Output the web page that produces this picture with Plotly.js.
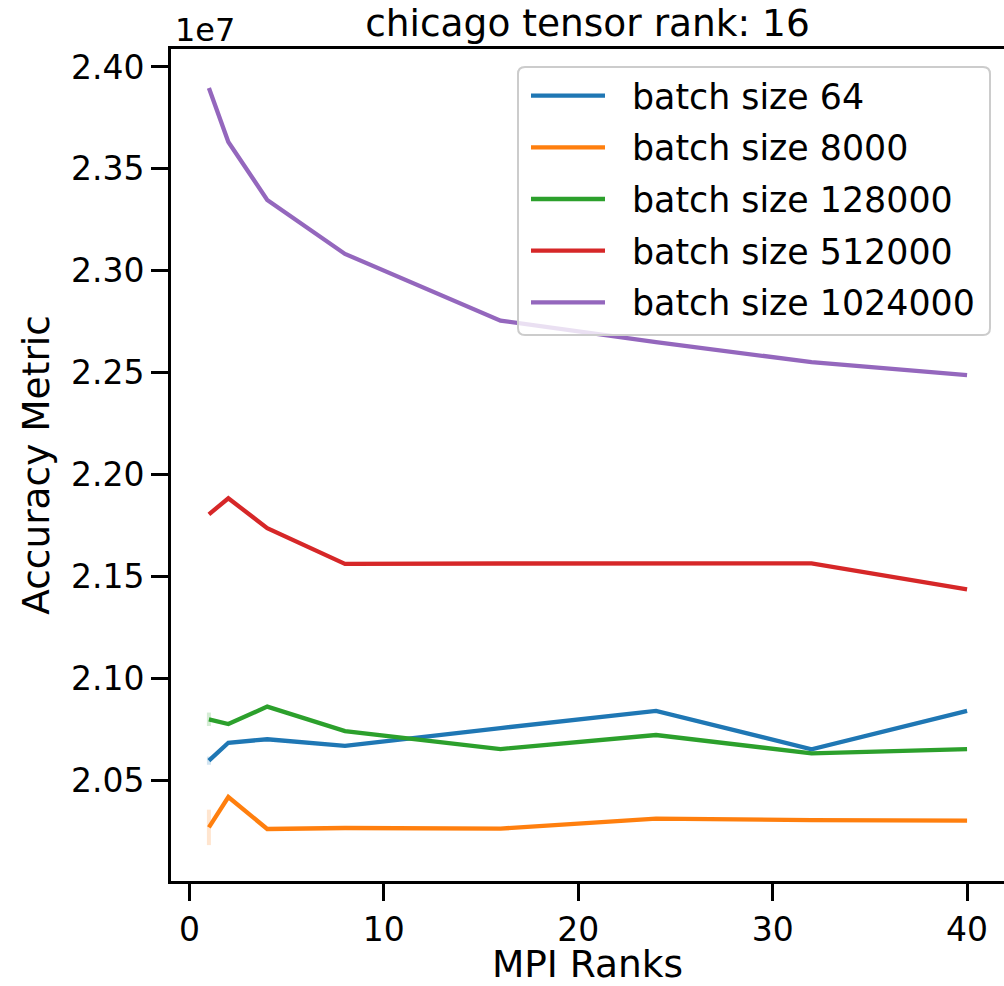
<!DOCTYPE html>
<html>
<head>
<meta charset="utf-8">
<script src="https://cdn.plot.ly/plotly-3.0.1.min.js"></script>
<style>
html,body{margin:0;padding:0;background:#fff;overflow:hidden;}
#chart{width:1004px;height:986px;}
</style>
</head>
<body>
<div id="chart"></div>
<script>
// MPI ranks (x axis)
const mpiRanks = [1, 2, 4, 8, 16, 24, 32, 40];

// Accuracy metric values, in units of 1e7
const batch64      = [2.0598, 2.0686, 2.0703, 2.0671, 2.0758, 2.0842, 2.0654, 2.0842];
const batch8000    = [2.0271, 2.0420, 2.0263, 2.0268, 2.0265, 2.0314, 2.0307, 2.0304];
const batch128000  = [2.0801, 2.0778, 2.0863, 2.0743, 2.0655, 2.0724, 2.0634, 2.0655];
const batch512000  = [2.1806, 2.1885, 2.1738, 2.1563, 2.1565, 2.1565, 2.1566, 2.1438];
const batch1024000 = [2.3897, 2.3632, 2.3348, 2.3083, 2.2756, 2.2651, 2.2552, 2.2489];

// confidence half-widths (1e7 units), only visible at 1 rank
const ci64      = [0.0020, 0, 0, 0, 0, 0, 0, 0];
const ci8000    = [0.0087, 0, 0, 0, 0, 0, 0, 0];
const ci128000  = [0.0033, 0, 0, 0, 0, 0, 0, 0];
const ci512000  = [0, 0, 0, 0, 0, 0, 0, 0];
const ci1024000 = [0, 0, 0, 0, 0, 0, 0, 0];

const seriesNames = ['batch size 64', 'batch size 8000', 'batch size 128000', 'batch size 512000', 'batch size 1024000'];
const seriesValues = [batch64, batch8000, batch128000, batch512000, batch1024000];
const seriesCI = [ci64, ci8000, ci128000, ci512000, ci1024000];
const colors = ['#1f77b4', '#ff7f0e', '#2ca02c', '#d62728', '#9467bd'];
const ciColors = ['rgba(31,119,180,0.2)', 'rgba(255,127,14,0.2)', 'rgba(44,160,44,0.2)', 'rgba(214,39,40,0.2)', 'rgba(148,103,189,0.2)'];

const titleText = 'chicago tensor rank: 16';
const xTitle = 'MPI Ranks';
const yTitle = 'Accuracy Metric';
const offsetText = '1e7';

const FONT = 'DejaVu Sans, sans-serif';

// plot-area geometry (pixels)
const W = 1004, H = 986;
const M = {l: 171, r: 0, t: 49, b: 105};
const PW = W - M.l - M.r, PH = H - M.t - M.b;
const px = v => (v - M.l) / PW;        // page x -> paper x
const py = v => (H - M.b - v) / PH;    // page y -> paper y

const traces = seriesNames.map((name, i) => ({
  type: 'scatter',
  mode: 'lines',
  name: name,
  x: mpiRanks,
  y: seriesValues[i],
  line: {color: colors[i], width: 4.3},
  error_y: {type: 'data', array: seriesCI[i], visible: true, color: ciColors[i], thickness: 4, width: 0},
  showlegend: false,
  hoverinfo: 'x+y+name'
}));

// legend drawn as shapes + annotations (matplotlib-style long handles)
const LG = {left: 518, right: 990, top: 67, bottom: 335, r: 7,
            lineX0: 531, lineX1: 605, textX: 630, row0: 95.7, rowStep: 51.65};
const rx = LG.r / PW, ry = LG.r / PH;
const L = px(LG.left), R = px(LG.right), T = py(LG.top), B = py(LG.bottom);
const boxPath = `M${L + rx},${T} L${R - rx},${T} Q${R},${T} ${R},${T - ry} L${R},${B + ry} Q${R},${B} ${R - rx},${B} L${L + rx},${B} Q${L},${B} ${L},${B + ry} L${L},${T - ry} Q${L},${T} ${L + rx},${T} Z`;

const shapes = [{
  type: 'path', xref: 'paper', yref: 'paper', path: boxPath,
  fillcolor: 'rgba(255,255,255,0.8)', line: {color: '#cccccc', width: 2}, layer: 'above'
}];
const annotations = [{
  text: offsetText,
  xref: 'paper', yref: 'paper',
  x: 0, y: 1, xanchor: 'left', yanchor: 'bottom',
  xshift: 2, yshift: -2,
  showarrow: false,
  font: {family: FONT, size: 32, color: '#000'}
}];
seriesNames.forEach((name, i) => {
  const yy = py(LG.row0 + i * LG.rowStep);
  shapes.push({
    type: 'line', xref: 'paper', yref: 'paper',
    x0: px(LG.lineX0), x1: px(LG.lineX1), y0: yy, y1: yy,
    line: {color: colors[i], width: 4.3}, layer: 'above'
  });
  annotations.push({
    text: name, xref: 'paper', yref: 'paper',
    x: px(LG.textX), y: yy, xanchor: 'left', yanchor: 'middle',
    yshift: -1,
    showarrow: false,
    font: {family: FONT, size: 34.8, color: '#000'}
  });
});

const layout = {
  width: W,
  height: H,
  margin: M,
  paper_bgcolor: '#fff',
  plot_bgcolor: '#fff',
  font: {family: FONT, color: '#000'},
  showlegend: false,
  title: {
    text: titleText,
    font: {family: FONT, size: 37.5, color: '#000'},
    x: 0.5, xref: 'paper', xanchor: 'center',
    y: 1, yref: 'paper', yanchor: 'bottom',
    pad: {b: 13}
  },
  xaxis: {
    range: [-0.95, 41.9],
    tickmode: 'linear', tick0: 0, dtick: 10,
    showgrid: false, zeroline: false,
    showline: true, linecolor: '#000', linewidth: 3,
    mirror: true,
    ticks: 'outside', ticklen: 17, tickwidth: 3, tickcolor: '#000',
    tickfont: {family: FONT, size: 33, color: '#000'},
    title: {text: xTitle, font: {family: FONT, size: 37.5, color: '#000'}, standoff: 15}
  },
  yaxis: {
    range: [2.0008, 2.4088],
    tickmode: 'linear', tick0: 2.05, dtick: 0.05, tickformat: '.2f',
    showgrid: false, zeroline: false,
    showline: true, linecolor: '#000', linewidth: 3,
    mirror: false,
    ticks: 'outside', ticklen: 17, tickwidth: 3, tickcolor: '#000',
    tickfont: {family: FONT, size: 33, color: '#000'},
    title: {text: yTitle, font: {family: FONT, size: 37.5, color: '#000'}, standoff: 10}
  },
  shapes: shapes,
  annotations: annotations
};

Plotly.newPlot('chart', traces, layout, {displayModeBar: false, staticPlot: true});
</script>
</body>
</html>
